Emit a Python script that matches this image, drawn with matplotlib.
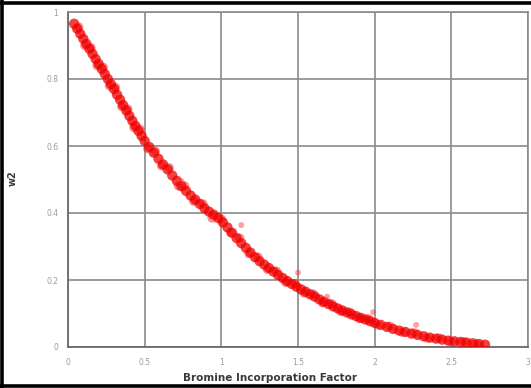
"""Scatter of w2 against the bromine incorporation factor."""

import matplotlib
matplotlib.use("Agg")
import matplotlib.pyplot as plt
from matplotlib.lines import Line2D

# main band of points
band_x = [0.04, 0.06, 0.08, 0.10, 0.12, 0.14, 0.16, 0.18, 0.20, 0.22, 0.24, 0.26,
          0.28, 0.30, 0.32, 0.34, 0.36, 0.38, 0.40, 0.42, 0.44, 0.46, 0.48, 0.50,
          0.53, 0.56, 0.59, 0.62, 0.65, 0.68, 0.71, 0.74, 0.77, 0.80, 0.83, 0.86,
          0.89, 0.92, 0.95, 0.98, 1.01, 1.04, 1.07, 1.10, 1.13, 1.16, 1.19, 1.22,
          1.25, 1.28, 1.31, 1.34, 1.37, 1.40, 1.43, 1.46, 1.49, 1.52, 1.55, 1.58,
          1.61, 1.64, 1.67, 1.70, 1.73, 1.76, 1.79, 1.82, 1.85, 1.88, 1.91, 1.94,
          1.97, 2.00, 2.04, 2.08, 2.12, 2.16, 2.20, 2.24, 2.28, 2.32, 2.36, 2.40,
          2.44, 2.48, 2.52, 2.56, 2.60, 2.64, 2.68, 2.72]
band_y = [0.965, 0.950, 0.935, 0.920, 0.905, 0.890, 0.875, 0.860, 0.845, 0.830, 0.815, 0.800,
          0.785, 0.770, 0.753, 0.738, 0.722, 0.706, 0.690, 0.675, 0.660, 0.645, 0.630, 0.615,
          0.597, 0.580, 0.562, 0.545, 0.530, 0.512, 0.496, 0.480, 0.466, 0.452, 0.440, 0.427,
          0.414, 0.404, 0.395, 0.385, 0.372, 0.357, 0.341, 0.325, 0.310, 0.296, 0.282, 0.268,
          0.256, 0.246, 0.236, 0.225, 0.215, 0.206, 0.197, 0.188, 0.180, 0.172, 0.165, 0.157,
          0.150, 0.142, 0.135, 0.128, 0.121, 0.115, 0.109, 0.103, 0.097, 0.092, 0.087, 0.082,
          0.077, 0.072, 0.066, 0.060, 0.054, 0.049, 0.045, 0.040, 0.036, 0.032, 0.028, 0.025,
          0.022, 0.019, 0.017, 0.015, 0.013, 0.011, 0.009, 0.007]

# points sitting on either edge of the band
edge_x = [0.07, 0.11, 0.15, 0.19, 0.23, 0.27, 0.31, 0.35, 0.39, 0.43, 0.47, 0.52,
          0.57, 0.61, 0.66, 0.72, 0.76, 0.82, 0.88, 0.94, 1.00, 1.06, 1.12, 1.18,
          1.24, 1.30, 1.36, 1.42, 1.48, 1.54, 1.60, 1.66, 1.72, 1.78, 1.84, 1.90,
          1.96, 2.02, 2.10, 2.18, 2.26, 2.34, 2.42, 2.50, 2.58, 2.66]
edge_y = [0.955, 0.900, 0.893, 0.840, 0.835, 0.780, 0.775, 0.718, 0.710, 0.655, 0.650, 0.592,
          0.584, 0.541, 0.535, 0.481, 0.481, 0.435, 0.427, 0.385, 0.382, 0.342, 0.325, 0.279,
          0.268, 0.232, 0.226, 0.193, 0.189, 0.161, 0.158, 0.132, 0.129, 0.106, 0.104, 0.085,
          0.084, 0.066, 0.062, 0.044, 0.042, 0.027, 0.027, 0.016, 0.016, 0.009]

# a few stray points above the band
stray_x = [0.74, 1.13, 1.50, 1.69, 1.99, 2.27]
stray_y = [0.495, 0.364, 0.222, 0.150, 0.104, 0.066]

# short green segment along the axis at the right
tail_x = [2.72, 3.0]
tail_y = [0.0, 0.0]

x_ticks = [0, 0.5, 1, 1.5, 2, 2.5, 3]
x_tick_labels = ["0", "0.5", "1", "1.5", "2", "2.5", "3"]
y_ticks = [0, 0.2, 0.4, 0.6, 0.8, 1]
y_tick_labels = ["0", "0.2", "0.4", "0.6", "0.8", "1"]

W, H = 531, 388
fig = plt.figure(figsize=(W / 100, H / 100), dpi=100)
fig.patch.set_facecolor("white")

# axes box in pixels: x 68..528, y 12..347 (from top)
ax = fig.add_axes([68 / W, (H - 347) / H, 460 / W, 335 / H])
ax.set_xlim(0, 3)
ax.set_ylim(0, 1)

ax.plot(tail_x, tail_y, color="#8fe08f", lw=1.5, zorder=2)
ax.scatter(edge_x, edge_y, s=45, color="#ff1a1a", alpha=0.5, edgecolors="none", zorder=3)
ax.scatter(band_x, band_y, s=55, color="#f00000", alpha=0.75, edgecolors="none", zorder=3)
ax.scatter(stray_x, stray_y, s=18, color="#ff3030", alpha=0.45, edgecolors="none", zorder=3)

ax.set_xticks(x_ticks)
ax.set_xticklabels(x_tick_labels)
ax.set_yticks(y_ticks)
ax.set_yticklabels(y_tick_labels)
ax.tick_params(length=0, labelsize=5.5, labelcolor="#9a9a9a")
ax.tick_params(axis="x", pad=8)
ax.tick_params(axis="y", pad=7)
ax.grid(True, color="#8a8a8a", lw=1.2)
ax.set_axisbelow(True)
for side in ("left", "bottom"):
    ax.spines[side].set_color("#6a6a6a")
    ax.spines[side].set_linewidth(1.3)
for side in ("top", "right"):
    ax.spines[side].set_color("#8a8a8a")
    ax.spines[side].set_linewidth(1.2)

fig.text(270 / W, 1 - 378 / H, "Bromine Incorporation Factor", ha="center", va="center",
         fontsize=7.5, fontweight="bold", color="#3a3a3a")
fig.text(13 / W, 1 - 178 / H, "w2", ha="center", va="center", rotation=90,
         fontsize=7, fontweight="bold", color="#3a3a3a")

# black frame on the left, top and bottom edges of the picture
frame = dict(color="black", lw=2.6, transform=fig.transFigure, figure=fig)
fig.lines.extend([
    Line2D([2 / W, 2 / W], [0, 1], **frame),
    Line2D([0, 1], [1 - 3 / H, 1 - 3 / H], **frame),
    Line2D([0, 1], [2 / H, 2 / H], **frame),
])

fig.savefig("out.png", dpi=100)
